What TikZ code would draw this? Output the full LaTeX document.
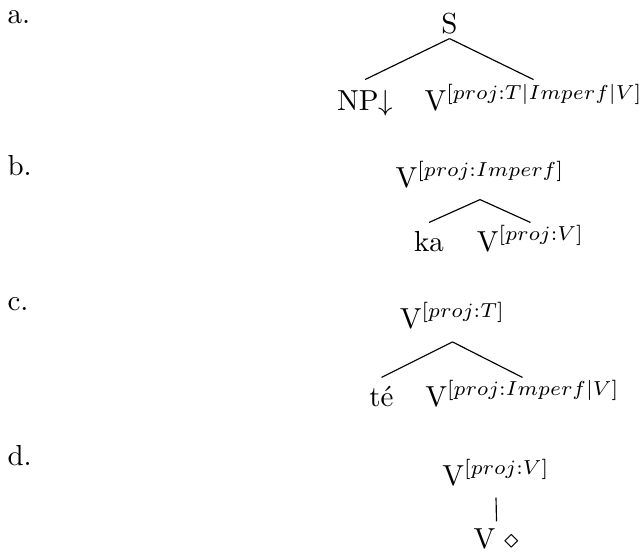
\documentclass[tikz,border=0pt]{standalone}
\usepackage{amsmath}
\usepackage{tikz}

\begin{document}
\begin{tikzpicture}[x=0.345pt, y=-0.345pt,
  cat/.style={anchor=base, inner sep=0pt, text height=9.65pt, text depth=4.14pt},
  lbl/.style={anchor=base west, inner sep=0pt}]
\useasboundingbox (0,0) rectangle (642,554);

\node[lbl] (la) at (7,23)  {a.};
\node[lbl] (lb) at (7,175) {b.};
\node[lbl] (lc) at (7,310) {c.};
\node[lbl] (ld) at (7,465) {d.};

\node[cat, text depth=1.72pt] (S) at (449.5,33) {S};
\node[cat, text height=10.3pt] (np) at (365,110) {NP$\downarrow$};
\node[cat, text height=10.3pt] (va) at (533.5,110) {V$^{[proj:T|Imperf|V]}$};

\node[cat] (vb) at (480,187) {V$^{[proj:Imperf]}$};
\node[cat] (ka) at (429,251) {ka};
\node[cat] (vbv) at (530.5,251) {V$^{[proj:V]}$};

\node[cat, text depth=4.6pt] (vc) at (452.5,328) {V$^{[proj:T]}$};
\node[cat] (te) at (381.5,406) {té};
\node[cat] (vci) at (522.5,406) {V$^{[proj:Imperf|V]}$};

\node[cat] (vd) at (496,485) {V$^{[proj:V]}$};
\node[cat, text height=9pt] (anc) at (496.5,548) {V $\diamond$};

\draw (S.south) -- (np.north);
\draw (S.south) -- (va.north);
\draw (vb.south) -- (ka.north);
\draw (vb.south) -- (vbv.north);
\draw (vc.south) -- (te.north);
\draw (vc.south) -- (vci.north);
\draw (vd.south) -- (anc.north);

\end{tikzpicture}
\end{document}
